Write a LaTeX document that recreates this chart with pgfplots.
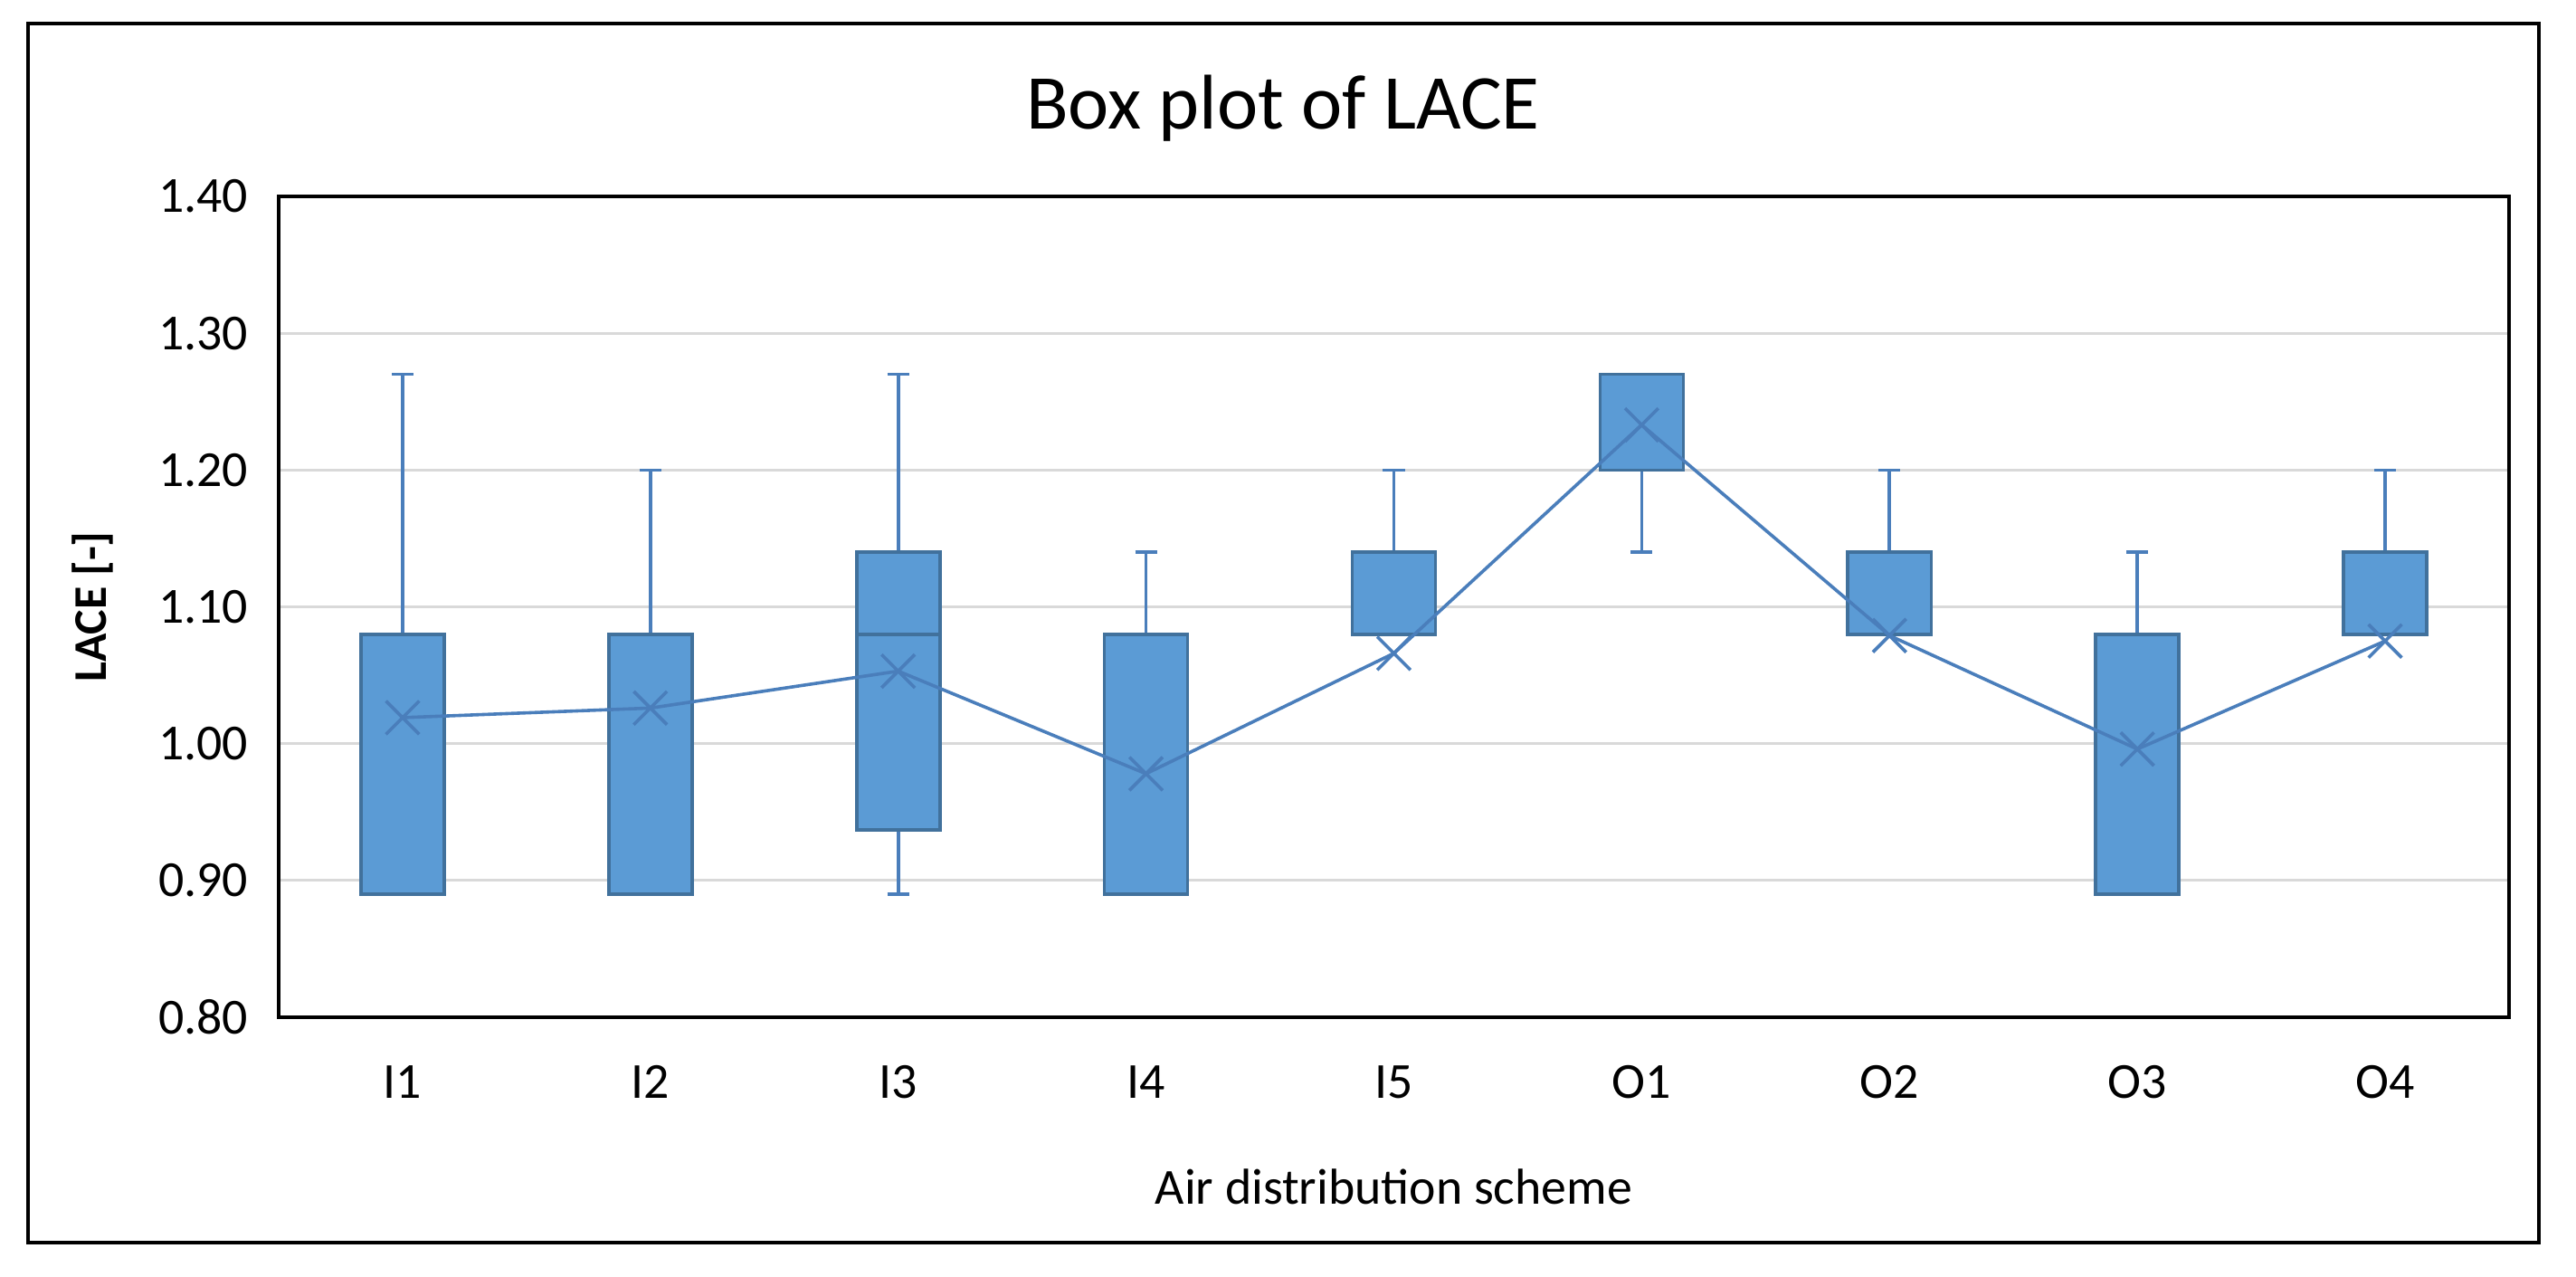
\documentclass[border=0pt]{standalone}
\usepackage{fontspec}
\setmainfont{Carlito}
\usepackage{pgfplots}
\pgfplotsset{compat=1.18}
\usepgfplotslibrary{statistics}

\definecolor{boxfill}{HTML}{5B9BD5}
\definecolor{boxedge}{HTML}{41719C}
\definecolor{whisk}{HTML}{4A7EBB}
\definecolor{gridgray}{HTML}{D9D9D9}

\begin{document}
\begin{tikzpicture}
  \begin{axis}[
      at={(0,0)}, anchor=south west,
      scale only axis,
      width=616.25bp, height=226.75bp,
      xmin=-0.5, xmax=8.5,
      ymin=0.8, ymax=1.4,
      xtick={0,...,8},
      xticklabels={I1,I2,I3,I4,I5,O1,O2,O3,O4},
      ytick={0.8,0.9,...,1.41},
      major tick length=0pt,
      ymajorgrids,
      major grid style={line width=0.75bp, color=gridgray},
      axis line style={line width=1bp, black},
      yticklabel={\pgfmathprintnumber[fixed,fixed zerofill,precision=2,assume math mode=true]{\tick}},
      tick label style={font=\fontsize{14}{16}\selectfont},
      xticklabel style={anchor=base, yshift=-22.25bp},
      yticklabel style={anchor=east, inner sep=0pt, xshift=-8.25bp},
      xlabel={Air distribution scheme},
      xlabel style={at={(axis description cs:0.5,-0.2282)}, anchor=base,
        font=\fontsize{14}{16}\selectfont},
      ylabel={LACE [-]},
      ylabel style={at={(axis description cs:-0.0832,0.5)}, anchor=center,
        font=\bfseries\fontsize{13}{15}\selectfont},
      boxplot/draw direction=y,
      boxplot/box extend=0.336,
      boxplot/whisker extend=0.088,
      boxplot/every box/.style={fill=boxfill, draw=boxedge, line width=0.9bp},
      boxplot/every whisker/.style={draw=whisk, line width=0.9bp},
      boxplot/every median/.style={draw=boxedge, line width=0.9bp},
    ]
    \addplot[boxplot prepared={draw position=0, lower whisker=0.89, lower quartile=0.89, median=0.89, upper quartile=1.08, upper whisker=1.27}] coordinates {};
    \addplot[boxplot prepared={draw position=1, lower whisker=0.89, lower quartile=0.89, median=0.89, upper quartile=1.08, upper whisker=1.20}] coordinates {};
    \addplot[boxplot prepared={draw position=2, lower whisker=0.89, lower quartile=0.937, median=1.08, upper quartile=1.14, upper whisker=1.27}] coordinates {};
    \addplot[boxplot prepared={draw position=3, lower whisker=0.89, lower quartile=0.89, median=0.89, upper quartile=1.08, upper whisker=1.14}] coordinates {};
    \addplot[boxplot prepared={draw position=4, lower whisker=1.08, lower quartile=1.08, median=1.08, upper quartile=1.14, upper whisker=1.20}] coordinates {};
    \addplot[boxplot prepared={draw position=5, lower whisker=1.14, lower quartile=1.20, median=1.20, upper quartile=1.27, upper whisker=1.27}] coordinates {};
    \addplot[boxplot prepared={draw position=6, lower whisker=1.08, lower quartile=1.08, median=1.08, upper quartile=1.14, upper whisker=1.20}] coordinates {};
    \addplot[boxplot prepared={draw position=7, lower whisker=0.89, lower quartile=0.89, median=0.89, upper quartile=1.08, upper whisker=1.14}] coordinates {};
    \addplot[boxplot prepared={draw position=8, lower whisker=1.08, lower quartile=1.08, median=1.08, upper quartile=1.14, upper whisker=1.20}] coordinates {};
    % means
    \addplot[whisk, line width=0.9bp, mark=x, mark size=6.5bp, mark options={line width=0.9bp}]
      coordinates {(0,1.019) (1,1.026) (2,1.053) (3,0.978) (4,1.066) (5,1.233) (6,1.079) (7,0.996) (8,1.075)};
  \end{axis}
  \node[anchor=base, font=\fontsize{21.5}{24}\selectfont] at (277.5bp,245.25bp) {Box plot of LACE};
  \draw[line width=1.2bp] (-69.25bp,-62.25bp) rectangle (624.5bp,274.5bp);
  \pgfresetboundingbox
  \path (-77bp,-71.75bp) rectangle (634.75bp,281bp);
\end{tikzpicture}
\end{document}
